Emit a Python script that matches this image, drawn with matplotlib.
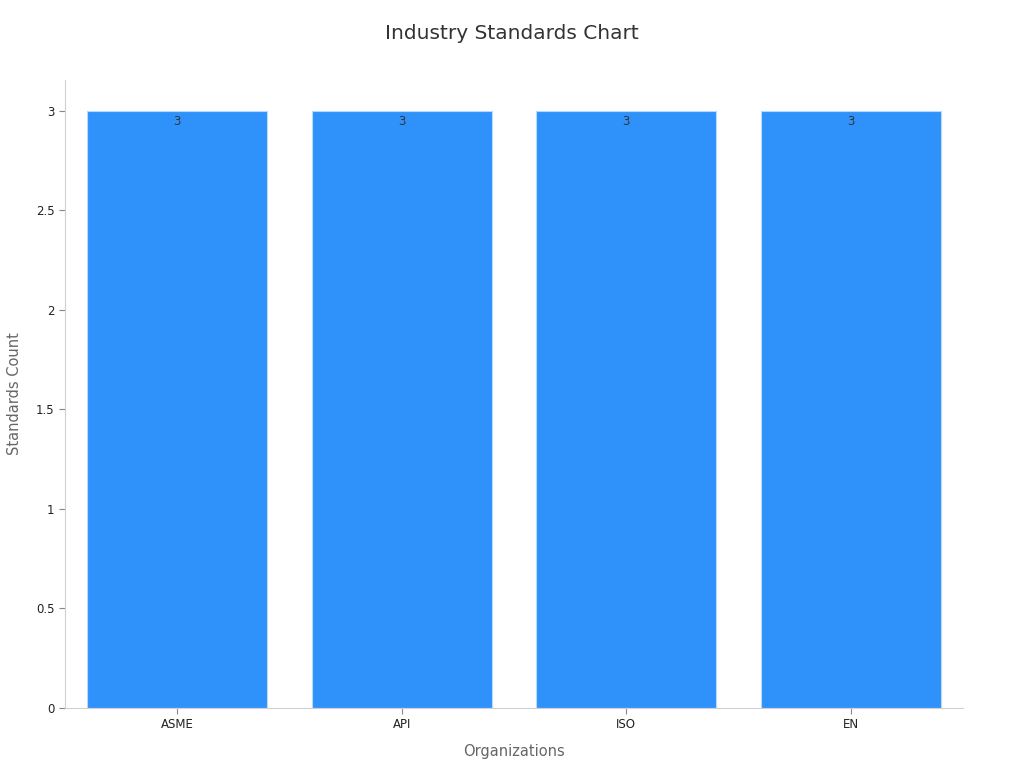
import matplotlib
matplotlib.use("Agg")
import matplotlib.pyplot as plt

organizations = ["ASME", "API", "ISO", "EN"]
standards_count = [3, 3, 3, 3]

BAR_COLOR = "#2f92fa"
SPINE_COLOR = "#d0d0d0"

fig = plt.figure(figsize=(10.24, 7.68), dpi=100, facecolor="white")
ax = fig.add_axes([0.0635, 0.0781, 0.877, 0.8177])

x = range(len(organizations))
bars = ax.bar(x, standards_count, width=0.8, color=BAR_COLOR,
              edgecolor="#b8d9fc", linewidth=0.8, zorder=2)

for bar, val in zip(bars, standards_count):
    ax.annotate(f"{val}", (bar.get_x() + bar.get_width() / 2, bar.get_height()),
                xytext=(0, -3), textcoords="offset points",
                ha="center", va="top", fontsize=8.5, color="#333333")

ax.set_xlim(-0.5, len(organizations) - 0.5)
ax.set_ylim(0, 3.155)
ax.set_yticks([0, 0.5, 1, 1.5, 2, 2.5, 3])
ax.set_yticklabels(["0", "0.5", "1", "1.5", "2", "2.5", "3"])
ax.set_xticks(list(x))
ax.set_xticklabels(organizations)

ax.tick_params(axis="both", labelsize=8.5, labelcolor="#222222",
               color="#888888", length=4, width=0.8)
for side in ["top", "right"]:
    ax.spines[side].set_visible(False)
for side in ["left", "bottom"]:
    ax.spines[side].set_color(SPINE_COLOR)
    ax.spines[side].set_linewidth(0.8)

ax.set_xlabel("Organizations", fontsize=10.5, color="#666666", labelpad=9)
ax.set_ylabel("Standards Count", fontsize=10.5, color="#666666", labelpad=10)
fig.text(0.5, 0.957, "Industry Standards Chart", ha="center", va="center",
         fontsize=14.5, color="#333333")

fig.savefig("out.png", dpi=100, facecolor="white")
